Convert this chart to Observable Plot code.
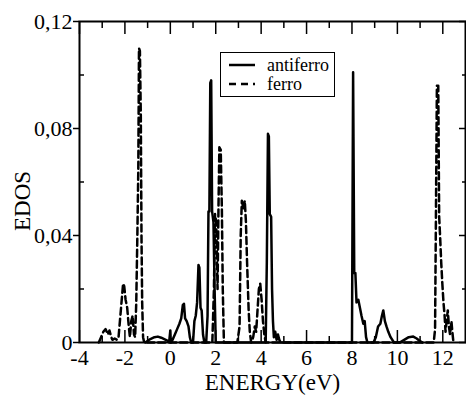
<!DOCTYPE html>
<html>
<head>
<meta charset="utf-8">
<script src="https://cdn.jsdelivr.net/npm/d3@7"></script>
<script src="https://cdn.jsdelivr.net/npm/@observablehq/plot@0.6"></script>
<style>
  body { margin: 0; background: white; }
  #wrap { position: relative; width: 466px; height: 396px; font-family: "Liberation Serif", serif; }
  #chart svg, #chart svg text { font-family: "Liberation Serif", serif !important; }
  #legend { position: absolute; left: 220px; top: 52px; width: 113px; height: 43px; border: 1.5px solid black; background: white; }
  #legend svg { position: absolute; left: 0; top: 0; }
  #legend .lab { position: absolute; left: 46px; font-size: 18px; line-height: 18px; }
</style>
</head>
<body>
<div id="wrap">
  <div id="chart"></div>
  <div id="legend">
    <svg width="40" height="43">
      <line x1="8" x2="34" y1="12" y2="12" stroke="black" stroke-width="2.5"/>
      <line x1="8" x2="34" y1="31" y2="31" stroke="black" stroke-width="2.5" stroke-dasharray="7,5"/>
    </svg>
    <div class="lab" style="top:3px">antiferro</div>
    <div class="lab" style="top:22px">ferro</div>
  </div>
</div>
<script>
// ---- data ----
const seriesNames = ["antiferro", "ferro"];

const energyAF = [-1.1, -0.9, -0.7, -0.55, -0.4, -0.2, -0.05, 0.0, 0.02, 0.1, 0.2, 0.3, 0.4, 0.48, 0.55, 0.6, 0.65, 0.72, 0.8, 0.86, 0.92,
  1.0, 1.06, 1.12, 1.18, 1.24, 1.28, 1.33, 1.38, 1.44, 1.5, 1.58, 1.64, 1.68, 1.72, 1.76, 1.8, 1.84, 1.9, 1.95, 2.0,
  4.2, 4.25, 4.3, 4.34, 4.38, 4.44, 4.48, 4.52, 4.56, 4.62, 4.68, 4.74, 4.8, 4.86,
  8.0, 8.05, 8.1, 8.15, 8.2, 8.28, 8.35, 8.42, 8.5, 8.56, 8.62, 8.68,
  8.95, 9.05, 9.15, 9.25, 9.32, 9.38, 9.45, 9.52, 9.6, 9.7, 9.85,
  10.1, 10.3, 10.5, 10.7, 10.85, 11.0, 11.1];
const edosAF = [0, 0.0012, 0.002, 0.0022, 0.0018, 0.001, 0.0003, 0.0045, 0, 0.001, 0.003, 0.005, 0.007, 0.009, 0.014, 0.0145, 0.009, 0.008, 0.006, 0.002, 0,
  0, 0.008, 0.010, 0.015, 0.029, 0.028, 0.013, 0.012, 0.003, 0, 0, 0.01, 0.049, 0.049, 0.097, 0.098, 0.049, 0.045, 0.02, 0,
  0, 0.03, 0.078, 0.077, 0.048, 0.047, 0.02, 0.008, 0.002, 0.004, 0.001, 0.003, 0.001, 0,
  0, 0.101, 0.026, 0.026, 0.015, 0.016, 0.013, 0.01, 0.007, 0.008, 0.002, 0,
  0, 0.002, 0.006, 0.007, 0.010, 0.012, 0.008, 0.006, 0.004, 0.002, 0,
  0, 0.001, 0.002, 0.0022, 0.0015, 0.0005, 0];

const energyF = [-3.15, -3.05, -2.95, -2.85, -2.75, -2.68, -2.6, -2.55, -2.45, -2.35, -2.28, -2.22, -2.15, -2.08, -2.03, -1.97, -1.9, -1.83, -1.78, -1.72, -1.66, -1.6, -1.55,
  -1.5, -1.45, -1.41, -1.38, -1.34, -1.3, -1.27, -1.24, -1.2, -1.15,
  1.85, 1.92, 1.97, 2.02, 2.08, 2.12, 2.16, 2.22, 2.27, 2.31, 2.36,
  2.95, 3.0, 3.05, 3.1, 3.15, 3.22, 3.28, 3.33, 3.38, 3.45, 3.5, 3.56, 3.65, 3.72, 3.78, 3.84, 3.9, 3.96, 4.02, 4.08, 4.14, 4.2,
  11.6, 11.66, 11.7, 11.74, 11.8, 11.84, 11.88, 11.93, 11.98, 12.03, 12.08, 12.12, 12.17, 12.22, 12.27, 12.32, 12.38, 12.42, 12.47];
const edosF = [0, 0.002, 0.004, 0.005, 0.003, 0.0045, 0.002, 0.001, 0.0015, 0.001, 0.002, 0.008, 0.015, 0.022, 0.021, 0.016, 0.013, 0.006, 0.002, 0.008, 0.010, 0.003, 0.002,
  0.015, 0.041, 0.065, 0.110, 0.109, 0.085, 0.04, 0.015, 0.002, 0,
  0, 0.02, 0.048, 0.045, 0.02, 0.05, 0.073, 0.072, 0.05, 0.02, 0,
  0, 0.003, 0.006, 0.04, 0.053, 0.05, 0.053, 0.045, 0.03, 0.012, 0.004, 0, 0.002, 0.006, 0.004, 0.012, 0.02, 0.022, 0.016, 0.008, 0.003, 0,
  0, 0.005, 0.05, 0.096, 0.096, 0.047, 0.04, 0.03, 0.022, 0.015, 0.01, 0.004, 0.008, 0.012, 0.006, 0.003, 0.008, 0.004, 0];

const xMajor = [-4, -2, 0, 2, 4, 6, 8, 10, 12];
const xMinor = [-3, -1, 1, 3, 5, 7, 9, 11];
const xTickLabels = ["-4", "-2", "0", "2", "4", "6", "8", "10", "12"];
const yMajor = [0, 0.04, 0.08, 0.12];
const yMinor = [0.02, 0.06, 0.10];
const yTickLabels = ["0", "0,04", "0,08", "0,12"];
const xLabel = "ENERGY(eV)";
const yLabel = "EDOS";

// ---- build rows ----
const rowsAF = energyAF.map((e, i) => ({e, v: edosAF[i]}));
const rowsF = energyF.map((e, i) => ({e, v: edosF[i]}));

const chart = Plot.plot({
  width: 466,
  height: 396,
  marginLeft: 79,
  marginRight: 1,
  marginTop: 21,
  marginBottom: 54,
  style: "font-family: 'Liberation Serif', serif; font-size: 22px; background: white; color: black;",
  x: {domain: [-4, 13]},
  y: {domain: [0, 0.12]},
  marks: [
    // data
    Plot.line(rowsF, {x: "e", y: "v", stroke: "black", strokeWidth: 2.5, strokeDasharray: "7,4"}),
    Plot.line(rowsAF, {x: "e", y: "v", stroke: "black", strokeWidth: 2.5}),
    // bottom axis labels and ticks (inward)
    Plot.axisX({anchor: "bottom", ticks: xMajor, tickSize: 0, tickPadding: 7, fontSize: 22, tickFormat: d => xTickLabels[xMajor.indexOf(d)], label: null}),
    Plot.axisX({anchor: "bottom", ticks: xMajor, tickSize: -12, fill: "none", strokeWidth: 1.5, label: null}),
    Plot.axisX({anchor: "bottom", ticks: xMinor, tickSize: -6, fill: "none", strokeWidth: 1.5, label: null}),
    // top ticks (inward)
    Plot.axisX({anchor: "top", ticks: xMajor, tickSize: -12, fill: "none", strokeWidth: 1.5, label: null}),
    Plot.axisX({anchor: "top", ticks: xMinor, tickSize: -6, fill: "none", strokeWidth: 1.5, label: null}),
    // left axis: major outward with labels, minor inward
    Plot.axisY({anchor: "left", ticks: yMajor, tickSize: 6, tickPadding: 1, fontSize: 22, strokeWidth: 1.5, tickFormat: d => yTickLabels[yMajor.indexOf(d)], label: null}),
    Plot.axisY({anchor: "left", ticks: yMinor, tickSize: -5, fill: "none", strokeWidth: 1.5, label: null}),
    // right ticks (inward)
    Plot.axisY({anchor: "right", ticks: yMajor, tickSize: -7, fill: "none", strokeWidth: 1.5, label: null}),
    Plot.axisY({anchor: "right", ticks: yMinor, tickSize: -4, fill: "none", strokeWidth: 1.5, label: null}),
    // axis titles
    Plot.text([xLabel], {text: d => d, frameAnchor: "bottom", textAnchor: "middle", dy: 47, fontSize: 23, fill: "black"}),
    Plot.text([yLabel], {text: d => d, frameAnchor: "left", textAnchor: "middle", lineAnchor: "middle", rotate: -90, dx: -57, dy: 19, fontSize: 23, fill: "black"}),
    Plot.frame({stroke: "black", strokeWidth: 2})
  ]
});
document.getElementById("chart").appendChild(chart);
</script>
</body>
</html>
